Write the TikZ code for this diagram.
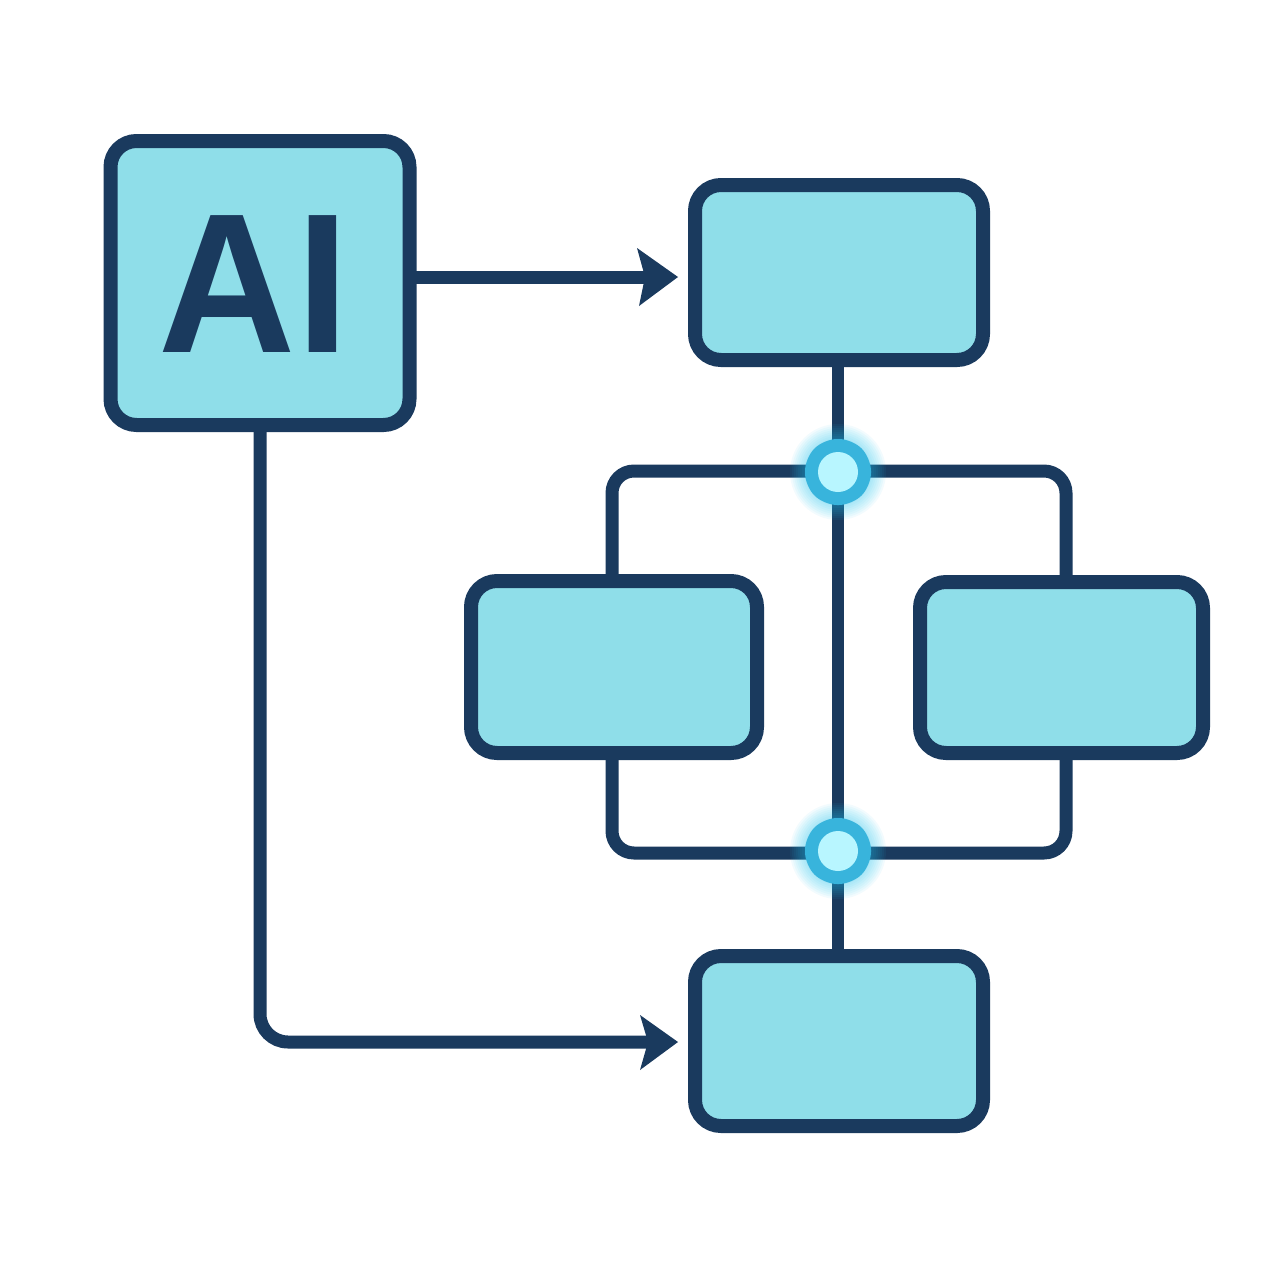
\documentclass[tikz,border=0pt]{standalone}
\usepackage{fontspec}
\setmainfont{Liberation Sans}
\usetikzlibrary{calc,backgrounds}
\definecolor{navy}{HTML}{1A3A5E}
\definecolor{boxfill}{HTML}{8FDEE9}
\definecolor{glowc}{HTML}{25C8F5}
\definecolor{bodyc}{HTML}{38B4DC}
\definecolor{corec}{HTML}{B8F6FF}
\tikzset{x=1pt,y=-1pt,
 boxn/.style={draw=navy,fill=boxfill,line width=14pt,rounded corners=26pt,inner sep=0pt,outer sep=0pt,anchor=north west},
 wire/.style={draw=navy,line width=13pt},
 headt/.style={fill=navy,draw=none},
 junction/.style={circle,inner sep=0pt,outer sep=0pt,minimum size=40pt,fill=corec}}
\newcommand{\glowat}[1]{%
 \foreach \r in {48,46,...,34}{\fill[glowc,opacity=.06] (#1) circle (\r pt);}
 \fill[bodyc,rounded corners=13pt] ($(#1)+(-33,-14)$) -- ($(#1)+(-14,-33)$) -- ($(#1)+(14,-33)$) -- ($(#1)+(33,-14)$) -- ($(#1)+(33,14)$) -- ($(#1)+(14,33)$) -- ($(#1)+(-14,33)$) -- ($(#1)+(-33,14)$) -- cycle;
}
\begin{document}
\begin{tikzpicture}
\useasboundingbox (0,0) rectangle (1280,1280);
\coordinate (h1) at (678,277);
\coordinate (n1) at (645,277);
\coordinate (h2) at (678,1042);
\coordinate (n2) at (648,1042);
\coordinate (c1) at (612,471);
\coordinate (c2) at (1066,471);
\coordinate (c3) at (612,853);
\coordinate (c4) at (1066,853);
\node[boxn,minimum width=299pt,minimum height=284pt] (ai) at (110.5,141) {};
\node[boxn,minimum width=288pt,minimum height=175pt] (top) at (695,185) {};
\node[boxn,minimum width=286pt,minimum height=172pt] (left) at (471,581) {};
\node[boxn,minimum width=283pt,minimum height=171pt] (right) at (920,582) {};
\node[boxn,minimum width=288pt,minimum height=170pt] (bot) at (695,956) {};
\coordinate (j1pos) at (838,472);
\coordinate (j2pos) at (838,851);
\begin{pgfonlayer}{background}
\fill[white] (0,0) rectangle (1280,1280);
\draw[wire,line width=12pt] (top.south -| j1pos) -- (j1pos) -- (j2pos) -- (bot.north -| j2pos);
\draw[wire,rounded corners=22pt] (left.north -| c1) -- (c1) -- (c2) -- (right.north -| c2);
\draw[wire,rounded corners=22pt] (left.south -| c3) -- (c3) -- (c4) -- (right.south -| c4);
\draw[wire] (ai.east |- h1) -- (n1);
\fill[headt] (h1) -- (637,248) -- (n1) -- (639,306) -- cycle;
\draw[wire,rounded corners=28pt] (ai.south) -- (ai.south |- h2) -- (n2);
\fill[headt] (h2) -- (640,1015) -- (n2) -- (640,1070) -- cycle;
\end{pgfonlayer}
\node[text=navy,font=\bfseries\fontsize{199}{199}\selectfont,inner sep=0pt,xscale=.955] (ailabel) at (254,284) {AI};
\glowat{j1pos}
\glowat{j2pos}
\node[junction] (j1) at (j1pos) {};
\node[junction] (j2) at (j2pos) {};
\end{tikzpicture}
\end{document}
